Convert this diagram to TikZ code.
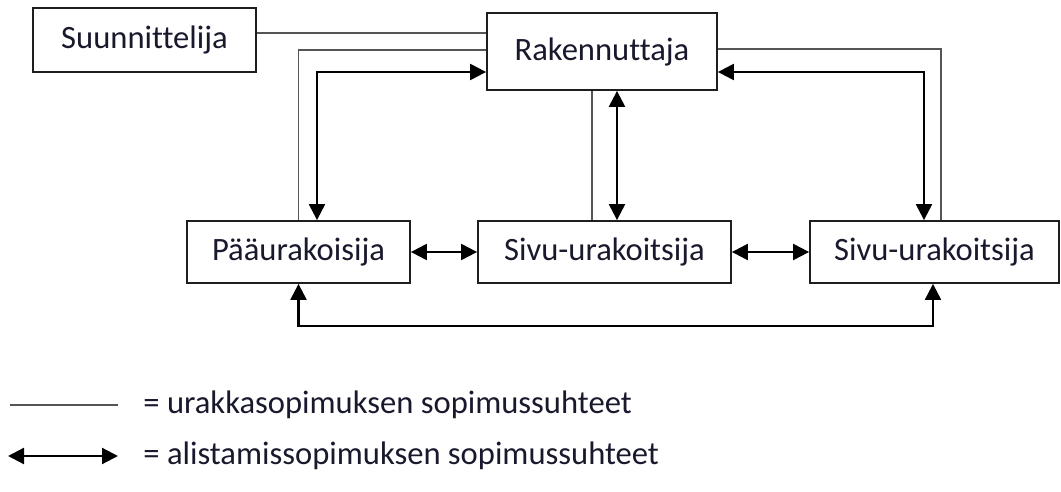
\documentclass[tikz,border=0pt]{standalone}
\usepackage{fontspec}
\setmainfont{Carlito}[Ligatures=NoCommon, Contextuals=NoAlternate]
\usepackage{tikz}
\usetikzlibrary{
    arrows.meta,
    positioning
}
\definecolor{ink}{RGB}{25,25,45}
\definecolor{frame}{RGB}{30,30,30}
\definecolor{plainline}{RGB}{85,85,85}
\tikzset{
    line cap=butt,
    line join=miter,
    orgbox/.style={
        rectangle,
        draw=frame,
        line width=0.9pt,
        fill=white,
        text=ink,
        inner sep=0pt,
        align=center,
        font=\fontsize{16.3}{19}\selectfont
    },
    contractline/.style={
        -,
        draw=plainline,
        line width=0.85pt
    },
    subarrow/.style={
        {Triangle[length=8pt, width=8pt]}-{Triangle[length=8pt, width=8pt]},
        draw=black,
        line width=1.1pt
    },
    legendtext/.style={
        text=ink,
        inner sep=0pt,
        font=\fontsize{16.3}{19}\selectfont
    }
}

\begin{document}
\begin{tikzpicture}[x=0.5pt, y=-0.5pt]

\useasboundingbox (0,0) rectangle (1061,492);

% Parties
\node[orgbox, minimum width=111.5pt, minimum height=31.75pt] (sunn) at (144.5, 40) {Suunnittelija};
\node[orgbox, minimum width=115pt, minimum height=38.5pt] (rak) at (602, 51.5) {Rakennuttaja};
\node[orgbox, minimum width=111.5pt, minimum height=31pt] (paa) at (298.5, 252) {Pääurakoisija};
\node[orgbox, minimum width=126.5pt, minimum height=31pt] (sivua) at (604.5, 252) {Sivu-urakoitsija};
\node[orgbox, minimum width=124.5pt, minimum height=31pt] (sivub) at (934.5, 252) {Sivu-urakoitsija};

% Contract relations
\draw[contractline] (sunn.east |- 0,33) -- (rak.west |- 0,33);
\draw[contractline] (rak.west |- 0,50) -| (paa.north);
\draw[contractline] (rak.east |- 0,49) -| (sivub.north -| 941,0);
\draw[contractline] (rak.south -| 592,0) -- (sivua.north -| 592,0);

% Subcontract relations
\draw[subarrow] (rak.west |- 0,72) -| (paa.north -| 317,0);
\draw[subarrow] (rak.east |- 0,72) -| (sivub.north -| 924,0);
\draw[subarrow] (rak.south -| 617,0) -- (sivua.north -| 617,0);
\draw[subarrow] (paa) -- (sivua);
\draw[subarrow] (sivua) -- (sivub);
\draw[subarrow] (paa.south) -- (paa.south |- 0,326) -| (sivub.south -| 933,0);

% Legend
\coordinate (leg1a) at (10,405);
\coordinate (leg1b) at (118,405);
\coordinate (leg2a) at (8,456);
\coordinate (leg2b) at (118,456);
\draw[contractline] (leg1a) -- (leg1b);
\draw[subarrow] (leg2a) -- (leg2b);
\node[legendtext, anchor=west] (legurakka) at (143,405) {= urakkasopimuksen sopimussuhteet};
\node[legendtext, anchor=west] (legalista) at (143,456) {= alistamissopimuksen sopimussuhteet};

\end{tikzpicture}
\end{document}
